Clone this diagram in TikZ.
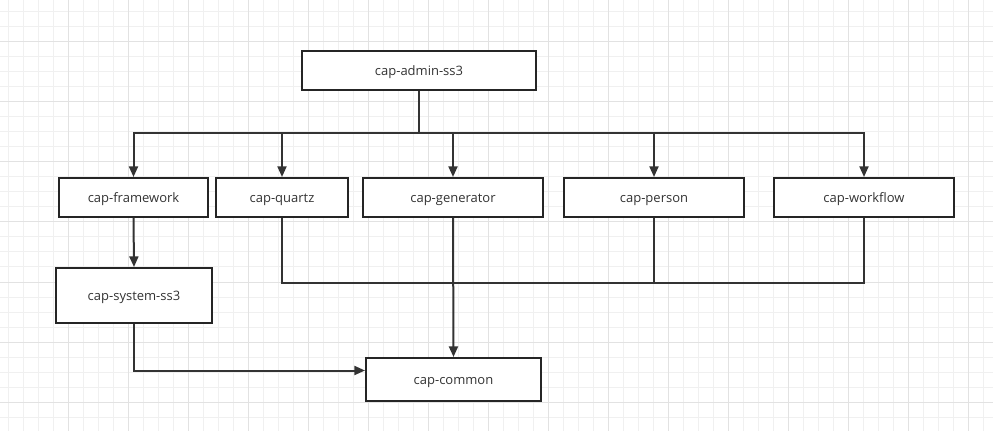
\documentclass[tikz,border=0pt]{standalone}
\usepackage{fontspec}
\setmainfont{Open Sans}
\usepackage{xcolor}
\usepackage{tikz}
\usetikzlibrary{arrows.meta}

\definecolor{gridminor}{HTML}{F0F0F0}
\definecolor{gridmajor}{HTML}{E2E2E2}
\definecolor{trait}{HTML}{333333}
\definecolor{bord}{HTML}{252525}

\begin{document}
\begin{tikzpicture}[x=0.75pt,y=-0.75pt,
   -{Triangle[length=8pt,width=6.75pt]},line width=1.5pt,color=trait,
   module/.style={rectangle,draw=bord,fill=white,line width=1.5pt,inner sep=0pt,
     minimum height=29.25pt,text=trait,text height=1.3ex,text depth=0pt,
     font=\fontsize{9.75}{12}\selectfont}]

  \useasboundingbox (0,0) rectangle (993,431);
  \fill[white] (0,0) rectangle (993,431);
  % grille de fond
  \foreach \x in {8,23,...,993} \draw[-,gridminor,line width=0.75pt] (\x,0) -- (\x,431);
  \foreach \y in {12,27,...,431} \draw[-,gridminor,line width=0.75pt] (0,\y) -- (993,\y);
  \foreach \x in {68,128,...,993} \draw[-,gridmajor,line width=0.75pt] (\x,0) -- (\x,431);
  \foreach \y in {42,102,...,431} \draw[-,gridmajor,line width=0.75pt] (0,\y) -- (993,\y);

  \node[module,minimum width=175.5pt](admin) at (419,70.5) {cap-admin-ss3};
  \node[module,minimum width=111.75pt](framework) at (133.5,197.5) {cap-framework};
  \node[module,minimum width=99pt](quartz) at (282,197.5) {cap-quartz};
  \node[module,minimum width=135pt](generator) at (453,197.5) {cap-generator};
  \node[module,minimum width=135pt](person) at (654,197.5) {cap-person};
  \node[module,minimum width=135pt](workflow) at (864,197.5) {cap-workflow};
  \node[module,minimum width=117pt,minimum height=41.25pt](system) at (134,295.5) {cap-system-ss3};
  \node[module,minimum width=131.25pt,minimum height=32.25pt](common) at (453.5,379.5) {cap-common};

  \coordinate (haut) at (419,133);
  \coordinate (bas) at (453,283);

  \foreach \to in {framework,quartz,generator,person,workflow}
    \draw (admin.south) -- (haut) -| (\to.north);
  \draw (framework.south) -- (system.north);
  \foreach \from in {quartz,person,workflow} \draw[-] (\from.south) |- (bas);
  \draw (generator.south) -- (common.north);
  \draw (system.south) |- ([yshift=6.75pt]common.west);
\end{tikzpicture}
\end{document}
